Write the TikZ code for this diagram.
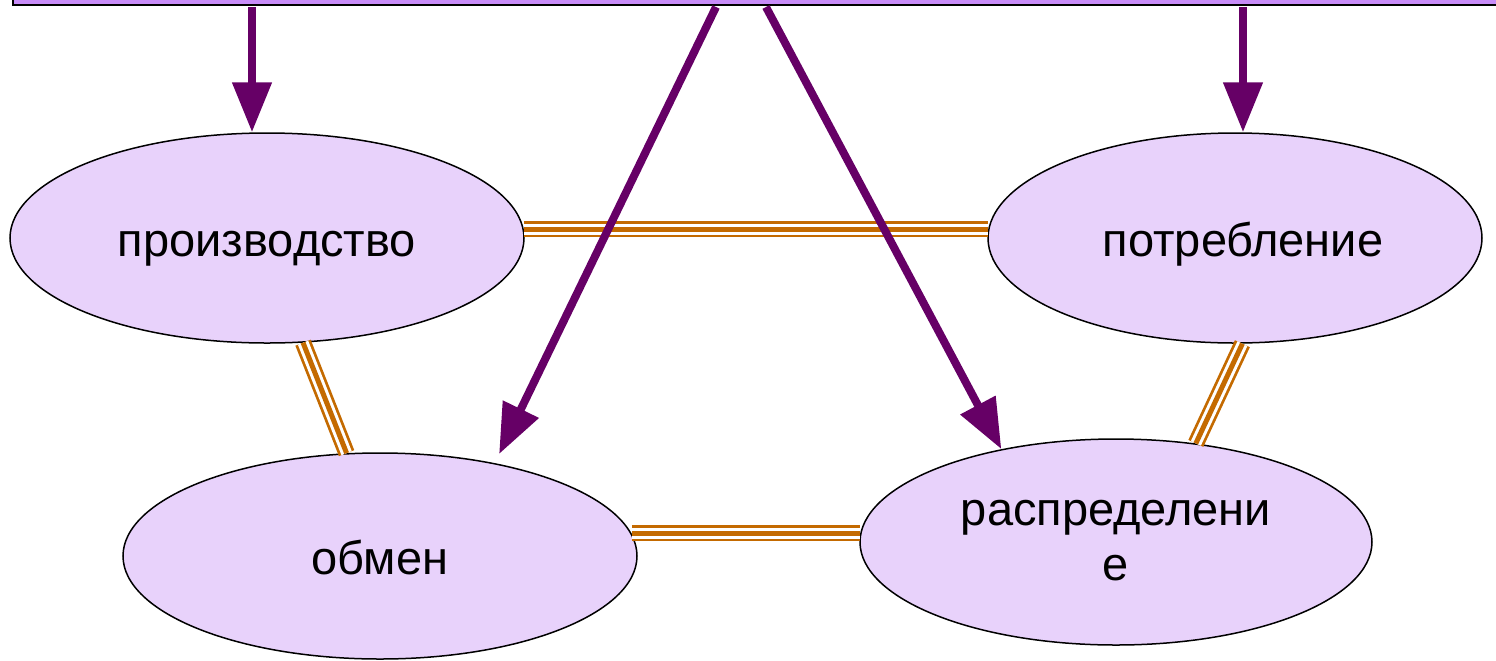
\documentclass[tikz,border=0pt]{standalone}
\usepackage{fontspec}
\setmainfont{Liberation Sans}
\usetikzlibrary{shapes.geometric,arrows.meta}
\definecolor{barfill}{HTML}{C88CF8}
\definecolor{ovalfill}{HTML}{E8D2FB}
\definecolor{arrowpurple}{HTML}{660066}
\definecolor{linkorange}{HTML}{C46A00}
\tikzset{
  sector/.style={ellipse, draw, line width=0.75pt, fill=ovalfill, minimum width=257pt, minimum height=105pt, inner sep=0pt, text height=18pt, text depth=0pt, font=\fontsize{23.5}{27.5}\selectfont},
  link/.style={preaction={draw=linkorange, line width=8.25pt}, preaction={draw=white, line width=5.5pt}, draw=linkorange, line width=2.5pt},
  flow/.style={draw=arrowpurple, line width=4pt, -{Triangle[width=19pt,length=25pt]}}
}
\begin{document}
\begin{tikzpicture}[x=0.5pt, y=-0.5pt]
            \useasboundingbox (0,0) rectangle (1496,660);
            \node[draw, line width=1pt, fill=barfill, anchor=south west, minimum width=800pt, minimum height=20pt] (bar) at (12,6) {};

            \node[sector] (prod) at (267,238) {производство};
            \node[sector, minimum width=247pt] (potr) at (1235,238) {\hspace*{8pt}потребление};
            \node[sector, minimum height=103pt] (obmen) at (380,556) {обмен};
            \node[sector, minimum width=256pt, minimum height=103pt, text height=, text depth=] (raspr) at (1116,542) {\begin{tabular}{@{}c@{}}распределени\\е\end{tabular}};

            \draw[link] (prod.2) -- (prod.2 -| potr.178);
            \draw[link] (obmen.5 |- raspr.178) -- (raspr.178);
            \draw[link] (prod.-71) -- (obmen.108);
            \draw[link] (potr.-86) -- (raspr.51);

            \coordinate (b1) at (252,7);
            \coordinate (b2) at (716,7);
            \coordinate (b3) at (766,7);
            \coordinate (b4) at (1243,7);
            \draw[flow] (b1) -- (b1 |- prod.north);
            \draw[flow, shorten >=5pt] (b2) -- (obmen.39);
            \draw[flow] (b3) -- (raspr.141);
            \draw[flow] (b4) -- (b4 |- potr.north);
        \end{tikzpicture}
\end{document}
